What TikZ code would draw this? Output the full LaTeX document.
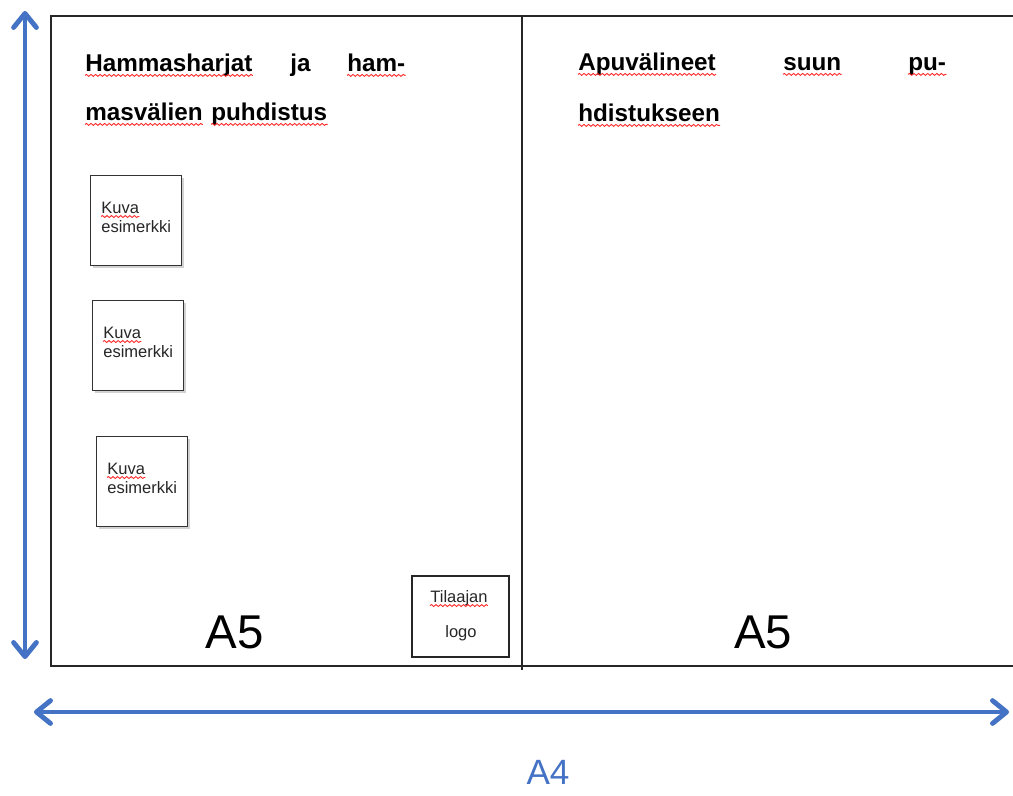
\documentclass[tikz,border=0pt]{standalone}
\usepackage{fontspec}
\setmainfont{Liberation Sans}
\usetikzlibrary{arrows.meta,shadows,decorations.pathmorphing}
\definecolor{sizeblue}{RGB}{68,114,196}
\def\px{0.02cm}
\def\titlelist{{(85,71)/t1/Hammasharjat}, {(290,71)/t2/ja}, {(347,71)/t3/ham-}, {(85,120)/t4/masvälien}, {(211,120)/t5/puhdistus}, {(578,70)/r1/Apuvälineet}, {(783,70)/r2/suun}, {(908,70)/r3/pu-}, {(578,121)/r4/hdistukseen}}
\tikzstyle{frame} = [draw=black!85, line width=1pt]
\tikzstyle{title}=[anchor=base west, inner sep=0pt, font=\fontsize{13.8}{16}\selectfont\bfseries]
\tikzstyle{picbox}=[draw=black!80, fill=white, line width=0.8pt, minimum width=91*\px, minimum height=90*\px, anchor=north west, drop shadow={shadow xshift=1.2pt, shadow yshift=-1.2pt, fill=black!35}]
\tikzstyle{small}=[anchor=base west, inner sep=0pt, text=black!85, font=\fontsize{9.4}{11}\selectfont]
\tikzstyle{sizetext}=[inner sep=0pt, font=\fontsize{27}{30}\selectfont]
\tikzstyle{sizearrow}=[draw=sizeblue, line width=2.8pt, line cap=round, {Straight Barb[length=8pt,width=13pt,line width=2.8pt,round]}-{Straight Barb[length=8pt,width=13pt,line width=2.8pt,round]}]
\tikzstyle{spell}=[draw=red!85, line width=0.5pt, decorate, decoration={snake, amplitude=0.55pt, segment length=2.6pt}]

\begin{document}
\begin{tikzpicture}[x=\px, y=-\px]
  \useasboundingbox (0,0) rectangle (1013,795);

  % A4 sheet folded into two A5 halves
  \path[frame] (1013,16) -- (51,16) -- (51,666) -- (1013,666);
  \coordinate (foldtop) at (522,16);
  \coordinate (foldbot) at (522,670);
  \path[frame] (foldtop) -- (foldbot);

  % headings
  \foreach \pos/\name/\word in \titlelist {
    \node[title] (\name) at \pos {\word};
  }
  \foreach \name in {t1, t3, t4, t5, r1, r2, r3, r4} {
    \path[spell] ([yshift=-2.5pt]\name.base west) -- ([yshift=-2.5pt]\name.base east);
  }

  % picture examples
  \foreach \pos/\name in {{(90,175)/kuva1}, {(92,300)/kuva2}, {(96,436)/kuva3}} {
    \node[picbox] (\name) at \pos {};
    \node[small] (\name-a) at ([xshift=11*\px, yshift=-38*\px]\name.north west) {Kuva};
    \node[small] (\name-b) at ([xshift=11*\px, yshift=-57*\px]\name.north west) {esimerkki};
    \path[spell] ([yshift=-2pt]\name-a.base west) -- ([yshift=-2pt]\name-a.base east);
  }

  % logo
  \node[draw=black!85, line width=1pt, minimum width=97*\px, minimum height=81*\px, anchor=north west] (logo) at (411,575) {};
  \node[small] (tilaajan) at (430,602) {Tilaajan};
  \node[small] (logotext) at (445,637) {logo};
  \path[spell] ([yshift=-2pt]tilaajan.base west) -- ([yshift=-2pt]tilaajan.base east);

  % sizes
  \node[sizetext] (a5left) at (235,632) {A5};
  \node[sizetext] (a5right) at (763,632) {A5};
  \node[inner sep=0pt, text=sizeblue, font=\fontsize{20}{24}\selectfont] (a4) at (548,772) {A4};

  \coordinate (vtop) at (25,11);
  \coordinate (vbot) at (25,659);
  \coordinate (hleft) at (34,712);
  \coordinate (hright) at (1009,712);
  \path[sizearrow] (vtop) -- (vbot);
  \path[sizearrow] (hleft) -- (hright);
\end{tikzpicture}
\end{document}
